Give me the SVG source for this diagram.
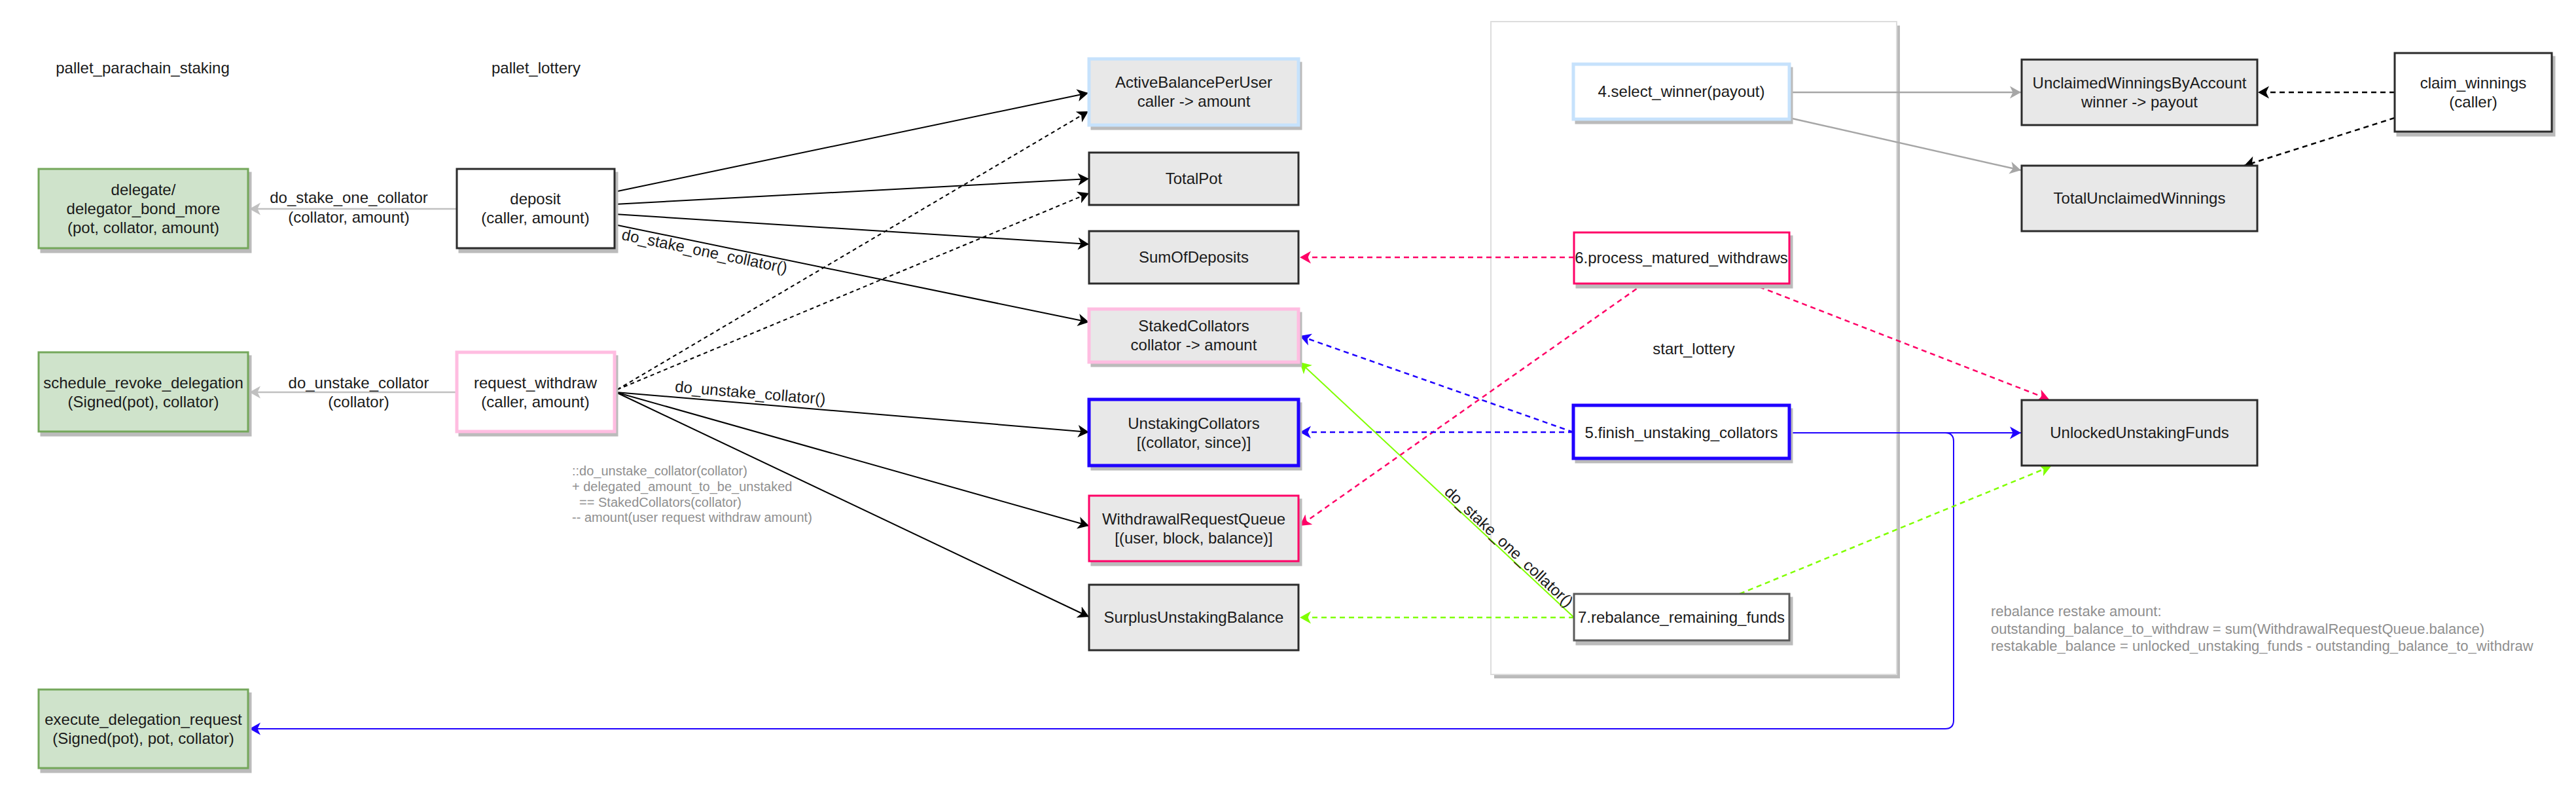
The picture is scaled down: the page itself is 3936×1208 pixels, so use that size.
<svg xmlns="http://www.w3.org/2000/svg" width="3936" height="1208" viewBox="0 0 3936 1208">
<style>
text{font-family:"Liberation Sans",Arial,Helvetica,sans-serif;font-size:24px;fill:#1a1a1a}
.c{text-anchor:middle}
.note{font-size:20px;fill:#8f8f8f}
.note2{font-size:22px;fill:#8f8f8f}
.sh{fill:#bbbbbb;stroke:#bbbbbb;stroke-width:3}
.st{fill:#e8e8e8;stroke:#2b2b2b;stroke-width:3}
.fn{fill:#ffffff;stroke:#2b2b2b;stroke-width:3}
.gr{fill:#cfe3cb;stroke:#74a75b;stroke-width:3}
.lb{stroke:#c6e2fc;stroke-width:5}
.lp{stroke:#ffbde1;stroke-width:5}
.bl{stroke:#1f00ff;stroke-width:5}
.rd{stroke:#ff0066;stroke-width:3}
.e{fill:none;stroke-width:2}
.k{stroke:#000000;marker-end:url(#ak)}
.g1{stroke:#c0c0c0;stroke-width:2.5;marker-end:url(#ag1)}
.g2{stroke:#a6a6a6;stroke-width:2.5;marker-end:url(#ag2)}
.b{stroke:#1f00ff;marker-end:url(#ab)}
.p{stroke:#ff0066;marker-end:url(#ap)}
.n{stroke:#80ff00;marker-end:url(#an)}
.d{stroke-dasharray:8 6;stroke-width:2.5}
.dk{stroke-dasharray:6 5}
</style>
<defs>
<marker id="ak" markerUnits="userSpaceOnUse" markerWidth="18" markerHeight="20" viewBox="0 0 18 20" refX="17" refY="10" orient="auto"><path d="M0,0.5 L17,10 L0,19.5 L4.5,10 Z" fill="#000000"/></marker>
<marker id="ag1" markerUnits="userSpaceOnUse" markerWidth="18" markerHeight="20" viewBox="0 0 18 20" refX="17" refY="10" orient="auto"><path d="M0,0.5 L17,10 L0,19.5 L4.5,10 Z" fill="#c0c0c0"/></marker>
<marker id="ag2" markerUnits="userSpaceOnUse" markerWidth="18" markerHeight="20" viewBox="0 0 18 20" refX="17" refY="10" orient="auto"><path d="M0,0.5 L17,10 L0,19.5 L4.5,10 Z" fill="#a6a6a6"/></marker>
<marker id="ab" markerUnits="userSpaceOnUse" markerWidth="18" markerHeight="20" viewBox="0 0 18 20" refX="17" refY="10" orient="auto"><path d="M0,0.5 L17,10 L0,19.5 L4.5,10 Z" fill="#1f00ff"/></marker>
<marker id="ap" markerUnits="userSpaceOnUse" markerWidth="18" markerHeight="20" viewBox="0 0 18 20" refX="17" refY="10" orient="auto"><path d="M0,0.5 L17,10 L0,19.5 L4.5,10 Z" fill="#ff0066"/></marker>
<marker id="an" markerUnits="userSpaceOnUse" markerWidth="18" markerHeight="20" viewBox="0 0 18 20" refX="17" refY="10" orient="auto"><path d="M0,0.5 L17,10 L0,19.5 L4.5,10 Z" fill="#80ff00"/></marker>
</defs>
<rect width="3936" height="1208" fill="#ffffff"/>

<g id="start_lottery">
<rect x="2283" y="39" width="620" height="997" fill="#bbbbbb"/>
<rect x="2278" y="33" width="620" height="997" fill="#ffffff" stroke="#dddddd" stroke-width="2"/>
<text class="c" x="2588" y="541">start_lottery</text>
</g>

<g id="title_staking"><text class="c" x="218" y="112">pallet_parachain_staking</text></g>
<g id="title_lottery"><text class="c" x="819" y="112">pallet_lottery</text></g>

<g id="connectors">
<path class="e g1" d="M698,319 H381"/>
<text class="c" x="533" y="310">do_stake_one_collator</text>
<text class="c" x="533" y="340">(collator, amount)</text>
<path class="e g1" d="M697,599 H381"/>
<text class="c" x="548" y="593">do_unstake_collator</text>
<text class="c" x="548" y="622">(collator)</text>

<path class="e k" d="M939,293 L1663,142"/>
<path class="e k" d="M939,312 L1664,273"/>
<path class="e k" d="M939,327 L1664,373"/>
<path class="e k" d="M939,343 L1664,492"/>
<text class="c" transform="translate(1079,372) rotate(11.6)" x="0" y="20">do_stake_one_collator()</text>

<path class="e k dk" d="M943,595 L1663,170"/>
<path class="e k dk" d="M943,595 L1664,295"/>
<path class="e k" d="M941,599 L1664,660"/>
<text class="c" transform="translate(1145,616) rotate(4.8)" x="0" y="-8">do_unstake_collator()</text>
<path class="e k" d="M941,599 L1664,803"/>
<path class="e k" d="M941,599 L1664,942"/>

<path class="e g2" d="M2734,141 H3088"/>
<path class="e g2" d="M2734,180 L3088,260"/>
<path class="e k d" d="M3659,141 H3450"/>
<path class="e k d" d="M3659,180 L3429,253"/>

<path class="e p d" d="M2405,393 H1986"/>
<path class="e p d" d="M2512,433 L1986,803"/>
<path class="e p d" d="M2675,433 L3131,610"/>

<path class="e b d" d="M2404,660 L1986,513"/>
<path class="e b d" d="M2404,660 H1986"/>
<path class="e b" stroke-width="2.5" d="M2734,661 H3088"/>
<path class="e b" stroke-width="2.5" d="M2734,661 H2972 Q2985,661 2985,674 V1100 Q2985,1113 2972,1113 H381"/>

<path class="e n d" d="M2405,943 H1986"/>
<path class="e n" d="M2405,943 L1986,553"/>
<text class="c" transform="translate(2298,843) rotate(42.9)" x="0" y="-3">do_stake_one_collator()</text>
<path class="e n d" d="M2658,907 L3134,712"/>
</g>

<g id="delegate">
<rect class="sh" x="63" y="264" width="320" height="121"/>
<rect class="gr" x="59" y="258" width="320" height="121"/>
<text class="c" x="219" y="298">delegate/</text>
<text class="c" x="219" y="327">delegator_bond_more</text>
<text class="c" x="219" y="356">(pot, collator, amount)</text>
</g>
<g id="schedule_revoke_delegation">
<rect class="sh" x="63" y="544" width="320" height="121"/>
<rect class="gr" x="59" y="538" width="320" height="121"/>
<text class="c" x="219" y="593">schedule_revoke_delegation</text>
<text class="c" x="219" y="622">(Signed(pot), collator)</text>
</g>
<g id="execute_delegation_request">
<rect class="sh" x="63" y="1059" width="320" height="120"/>
<rect class="gr" x="59" y="1053" width="320" height="120"/>
<text class="c" x="219" y="1107">execute_delegation_request</text>
<text class="c" x="219" y="1136">(Signed(pot), pot, collator)</text>
</g>

<g id="deposit">
<rect class="sh" x="702" y="264" width="241" height="121"/>
<rect class="fn" x="698" y="258" width="241" height="121"/>
<text class="c" x="818" y="312">deposit</text>
<text class="c" x="818" y="341">(caller, amount)</text>
</g>
<g id="request_withdraw">
<rect class="sh" x="702" y="544" width="241" height="121"/>
<rect class="fn lp" x="698" y="538" width="241" height="121"/>
<text class="c" x="818" y="593">request_withdraw</text>
<text class="c" x="818" y="622">(caller, amount)</text>
</g>

<g id="note_unstake">
<text class="note" x="874" y="726">::do_unstake_collator(collator)</text>
<text class="note" x="874" y="750">+ delegated_amount_to_be_unstaked</text>
<text class="note" x="874" y="774" xml:space="preserve">  == StakedCollators(collator)</text>
<text class="note" x="874" y="797">-- amount(user request withdraw amount)</text>
</g>

<g id="ActiveBalancePerUser">
<rect class="sh" x="1668" y="96" width="320" height="101"/>
<rect class="st lb" x="1664" y="90" width="320" height="101"/>
<text class="c" x="1824" y="134">ActiveBalancePerUser</text>
<text class="c" x="1824" y="163">caller -&gt; amount</text>
</g>
<g id="TotalPot">
<rect class="st" x="1664" y="233" width="320" height="80"/>
<text class="c" x="1824" y="281">TotalPot</text>
</g>
<g id="SumOfDeposits">
<rect class="st" x="1664" y="353" width="320" height="80"/>
<text class="c" x="1824" y="401">SumOfDeposits</text>
</g>
<g id="StakedCollators">
<rect class="sh" x="1668" y="478" width="320" height="81"/>
<rect class="st lp" x="1664" y="472" width="320" height="81"/>
<text class="c" x="1824" y="506">StakedCollators</text>
<text class="c" x="1824" y="535">collator -&gt; amount</text>
</g>
<g id="UnstakingCollators">
<rect class="sh" x="1668" y="616" width="320" height="101"/>
<rect class="st bl" x="1664" y="610" width="320" height="101"/>
<text class="c" x="1824" y="655">UnstakingCollators</text>
<text class="c" x="1824" y="684">[(collator, since)]</text>
</g>
<g id="WithdrawalRequestQueue">
<rect class="sh" x="1668" y="763" width="320" height="100"/>
<rect class="st rd" x="1664" y="757" width="320" height="100"/>
<text class="c" x="1824" y="801">WithdrawalRequestQueue</text>
<text class="c" x="1824" y="830">[(user, block, balance)]</text>
</g>
<g id="SurplusUnstakingBalance">
<rect class="st" x="1664" y="893" width="320" height="100"/>
<text class="c" x="1824" y="951">SurplusUnstakingBalance</text>
</g>

<g id="select_winner">
<rect class="sh" x="2408" y="104" width="330" height="84"/>
<rect class="fn lb" x="2404" y="98" width="330" height="84"/>
<text class="c" x="2569" y="148">4.select_winner(payout)</text>
</g>
<g id="process_matured_withdraws">
<rect class="sh" x="2409" y="361" width="329" height="78"/>
<rect class="fn rd" x="2405" y="355" width="329" height="78"/>
<text class="c" x="2569" y="402">6.process_matured_withdraws</text>
</g>
<g id="finish_unstaking_collators">
<rect class="sh" x="2408" y="625" width="330" height="81"/>
<rect class="fn bl" x="2404" y="619" width="330" height="81"/>
<text class="c" x="2569" y="669">5.finish_unstaking_collators</text>
</g>
<g id="rebalance_remaining_funds">
<rect class="sh" x="2409" y="913" width="329" height="71"/>
<rect class="fn" style="stroke:#5a5a5a" x="2405" y="907" width="329" height="71"/>
<text class="c" x="2569" y="951">7.rebalance_remaining_funds</text>
</g>

<g id="UnclaimedWinningsByAccount">
<rect class="st" x="3089" y="91" width="360" height="100"/>
<text class="c" x="3269" y="135">UnclaimedWinningsByAccount</text>
<text class="c" x="3269" y="164">winner -&gt; payout</text>
</g>
<g id="TotalUnclaimedWinnings">
<rect class="st" x="3089" y="253" width="360" height="100"/>
<text class="c" x="3269" y="311">TotalUnclaimedWinnings</text>
</g>
<g id="UnlockedUnstakingFunds">
<rect class="st" x="3089" y="611" width="360" height="100"/>
<text class="c" x="3269" y="669">UnlockedUnstakingFunds</text>
</g>
<g id="claim_winnings">
<rect class="sh" x="3663" y="87" width="240" height="120"/>
<rect class="fn" x="3659" y="81" width="240" height="120"/>
<text class="c" x="3779" y="135">claim_winnings</text>
<text class="c" x="3779" y="164">(caller)</text>
</g>

<g id="note_rebalance">
<text class="note2" x="3042" y="941">rebalance restake amount:</text>
<text class="note2" x="3042" y="968">outstanding_balance_to_withdraw = sum(WithdrawalRequestQueue.balance)</text>
<text class="note2" x="3042" y="994">restakable_balance = unlocked_unstaking_funds - outstanding_balance_to_withdraw</text>
</g>
</svg>
